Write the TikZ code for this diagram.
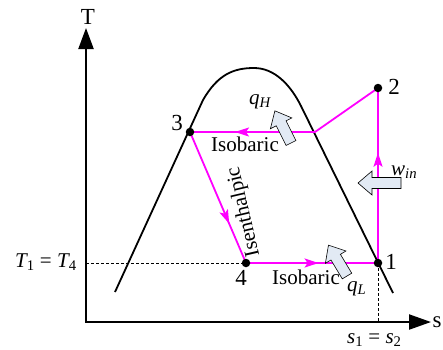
\documentclass[tikz,border=0pt]{standalone}
\usepackage{fontspec}
\setmainfont{Liberation Serif}
\usetikzlibrary{arrows.meta,decorations.markings}
\definecolor{mag}{RGB}{255,0,255}
\definecolor{afill}{RGB}{226,234,244}
\begin{document}
\begin{tikzpicture}[x=1pt,y=-1pt,
  axisline/.style={line width=2.2pt},
  dome/.style={line width=1.8pt, line join=round},
  cyc/.style={mag, line width=1.8pt, line cap=round},
  midarrow/.style={postaction={decorate}, decoration={markings, mark=at position #1 with {\arrow{Stealth[length=14pt,width=9pt,inset=3pt]}}}},
  dot/.style={circle, fill=black, inner sep=0pt, minimum size=8.5pt},
  guide/.style={dash pattern=on 3pt off 2pt, line width=0.6pt},
  lbl/.style={font=\fontsize{23}{23}\selectfont, inner sep=0pt},
  txt/.style={font=\fontsize{21}{21}\selectfont, inner sep=0pt},
  mth/.style={font=\fontsize{21}{21}\selectfont\itshape, inner sep=0pt},
  blockarrow/.pic={\draw[fill=afill, line width=0.6pt, line join=miter] (0,-5.5) -- (#1-14,-5.5) -- (#1-14,-12) -- (#1,0) -- (#1-14,12) -- (#1-14,5.5) -- (0,5.5) -- cycle;}
]
\useasboundingbox (0,0) rectangle (443,349);

% axes
\coordinate (O) at (86,322);
\coordinate (Ytop) at (86,28);
\coordinate (Xend) at (431,322);
\draw[axisline, {Triangle[length=21pt,width=15pt]}-{Triangle[length=22pt,width=15pt]}] (Ytop) |- (Xend);
\node[lbl] (Tlab) at (88,17) {T};
\node[lbl] (slab) at (437,322) {s};

% saturation dome
\draw[dome] (115,292) -- (203,100) .. controls (218,74) and (234,68) .. (254,68)
  .. controls (274,68) and (290,84) .. (301,106) -- (393,293);

% state points
\coordinate (P1) at (378,263);
\coordinate (P2) at (378,88);
\coordinate (P3) at (190,132);
\coordinate (P4) at (246,263);
\coordinate (K) at (315,132);

% guide lines
\draw[guide] (O |- P4) -- (P4);
\draw[guide] (P1) -- (P1 |- O);

% cycle
\draw[cyc, midarrow=0.63] (P1) -- (P2);
\draw[cyc] (P2) -- (K);
\draw[cyc, midarrow=0.64] (K) -- (P3);
\draw[cyc, midarrow=0.7] (P3) -- (P4);
\draw[cyc, midarrow=0.55] (P4) -- (P1);

\node[dot] (d1) at (P1) {};
\node[dot] (d2) at (P2) {};
\node[dot] (d3) at (P3) {};
\node[dot] (d4) at (P4) {};

\node[lbl] (n1) at (391,262) {1};
\node[lbl] (n2) at (394,87) {2};
\node[lbl] (n3) at (177,123) {3};
\node[lbl] (n4) at (241,278) {4};

\node[txt] (iso1) at (245,144) {Isobaric};
\node[txt] (iso2) at (306,277) {Isobaric};
\node[txt, rotate=103] (isen) at (244,212) {Isenthalpic};

% heat / work arrows
\pic[rotate=116.6] at (291,143) {blockarrow=36};
\pic[rotate=180] at (401,183) {blockarrow=43};
\pic[rotate=121] at (347,276) {blockarrow=36};

\node[mth, anchor=base west] (qH) at (249,104) {q\textsubscript{H}};
\node[mth, anchor=base west] (win) at (391,175) {w\textsubscript{in}};
\node[mth, anchor=base west] (qL) at (347,291) {q\textsubscript{L}};

\node[mth, anchor=base west] (Teq) at (15,267) {T\textsubscript{\upshape 1} \upshape= \itshape T\textsubscript{\upshape 4}};
\node[mth, anchor=base west] (seq) at (347,343) {s\textsubscript{\upshape 1} \upshape= \itshape s\textsubscript{\upshape 2}};
\end{tikzpicture}
\end{document}
